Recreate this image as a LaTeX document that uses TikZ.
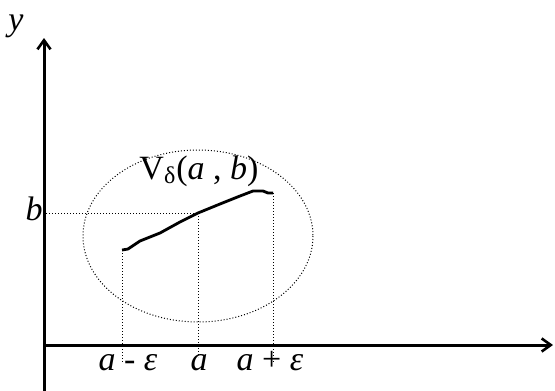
\documentclass[tikz,border=0pt]{standalone}
\usepackage{fontspec}
\setmainfont{Liberation Serif}
\usetikzlibrary{arrows.meta}

\begin{document}
\begin{tikzpicture}[x=1pt,y=-1pt]
\tikzset{
  axisline/.style={draw=black,line width=3pt,-{Straight Barb[length=3.2mm,width=4.6mm,line width=2.6pt]}},
  guideline/.style={draw=black,line width=1pt,dotted},
  graphline/.style={draw=black,line width=2.8pt,line join=round},
  lbl/.style={inner sep=0pt,anchor=base,font=\fontsize{34}{40}\selectfont}
}
\useasboundingbox (0,0) rectangle (555,391);
\coordinate (o) at (44,345);
\coordinate (ybot) at (44,391);
\coordinate (ytop) at (44,38);
\coordinate (xend) at (553,345);
\draw[axisline] (ybot) -- (ytop);
\draw[axisline] (o) -- (xend);
% neighbourhood
\draw[guideline] (198,236) ellipse [x radius=115,y radius=86];
% graph of the function
\coordinate (p_left) at (122,250);
\coordinate (p_mid) at (198,213);
\coordinate (p_right) at (273,193);
\draw[graphline] (p_left) -- (128,249) -- (140,241) -- (160,233) -- (180,222)
  -- (p_mid) -- (220,204) -- (240,196) -- (253,191) -- (263,191) -- (268,193) -- (p_right);
% projections
\coordinate (b_end) at (46,213);
\coordinate (l_end) at (122,362);
\coordinate (m_end) at (198,357);
\coordinate (r_end) at (273,362);
\draw[guideline] (b_end) -- (p_mid);
\draw[guideline] (p_left) -- (l_end);
\draw[guideline] (p_mid) -- (m_end);
\draw[guideline] (p_right) -- (r_end);
% labels
\node[lbl] (lab_y) at (16,30) {\textit{y}};
\node[lbl] (lab_b) at (34,220) {\textit{b}};
\node[lbl] (lab_V) at (199,179) {V\raisebox{-0.3ex}{\fontsize{24}{28}\selectfont δ}\kern1pt(\textit{a} , \textit{b})};
\node[lbl] (lab_am) at (128,370) {\textit{a} - \textit{ε}};
\node[lbl] (lab_a) at (199,370) {\textit{a}};
\node[lbl] (lab_ap) at (270,370) {\textit{a} + \textit{ε}};
\end{tikzpicture}
\end{document}
